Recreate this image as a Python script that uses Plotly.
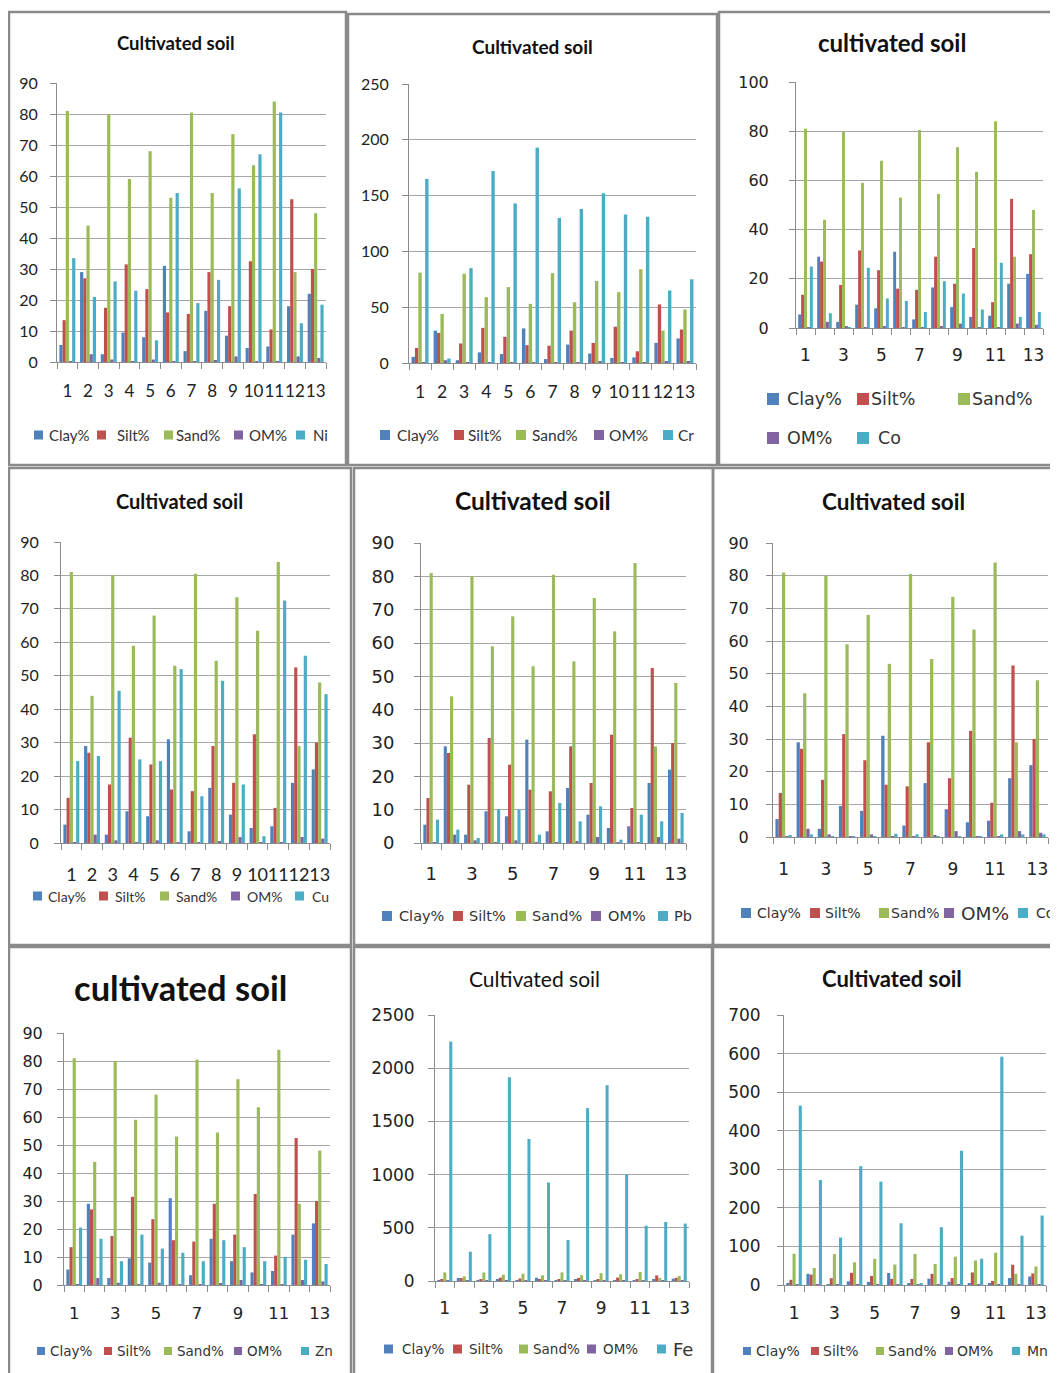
import plotly.graph_objects as go

# The page body has an 8px margin, so the figure is drawn 8px in and
# sized to end exactly at the window edge.
OFF = 8
W, H = 1058 - OFF, 1373 - OFF

# ---------------- data ----------------
samples = list(range(1, 14))
series_names = ["Clay%", "Silt%", "Sand%", "OM%"]
clay = [5.5, 29, 2.5, 9.5, 8, 31, 3.5, 16.5, 8.5, 4.5, 5, 18, 22]
silt = [13.5, 27, 17.5, 31.5, 23.5, 16, 15.5, 29, 18, 32.5, 10.5, 52.5, 30]
sand = [81, 44, 80, 59, 68, 53, 80.5, 54.5, 73.5, 63.5, 84, 29, 48]
om = [0.3, 2.5, 0.8, 0.2, 0.8, 0.2, 0.2, 0.5, 1.8, 0.2, 0.2, 1.8, 1.3]

ni = [33.5, 21, 26, 23, 7, 54.5, 19, 26.5, 56, 67, 80.5, 12.5, 18.5]
cr = [165, 4, 85, 172, 143, 193, 130, 138, 152, 133, 131, 65, 75]
co = [25, 6, 0.3, 24.5, 12, 11, 6.5, 19, 14, 7.5, 26.5, 4.5, 6.5]
cu = [24.5, 26, 45.5, 25, 24.5, 52, 14, 48.5, 17.5, 2, 72.5, 56, 44.5]
pb = [7, 4, 1.5, 10, 10, 2.5, 12, 6.5, 11, 1, 8.5, 6.5, 9]
cd = [0.6, 0.8, 0.1, 0.1, 0.1, 1.0, 0.8, 0.1, 0.1, 0.1, 0.8, 0.8, 0.8]
zn = [20.5, 16.5, 8.5, 18, 13, 11.5, 8.5, 16, 13.5, 8.5, 10, 9, 7.5]
fe = [2250, 275, 440, 1915, 1335, 925, 385, 1625, 1840, 1000, 520, 555, 540]
mn = [465, 272, 123, 308, 268, 160, 5, 150, 348, 68, 592, 128, 180]

odd_ticks = [1, 3, 5, 7, 9, 11, 13]

colors = ["#4F81BD", "#C0504D", "#9BBB59", "#8064A2", "#4BACC6"]
GRID = "#a6a6a6"
AXIS = "#8c8c8c"
BORDER = "#8a8a8a"

# ---------------- panel layout (window pixels) ----------------
panels = [
    dict(metal="Ni", vals=ni, title="Cultivated soil", tfam="Lato", tsize=18.5, tbold=True, tx=176, ty=43,
         px=(57, 326), py=(83, 362), ymax=90, dt=10, xt=samples,
         yfam="Lato", ysize=16, xfam="Lato", xsize=17, ystand=9, xstand=14,
         leg_rows=[(435, [(34, 47), (97, 115), (164, 174), (234, 247), (296, 311)])],
         lfam="Lato", lsize=15, lsizes=None, sq=9, border=(9, 12, 346, 465)),
    dict(metal="Cr", vals=cr, title="Cultivated soil", tfam="Lato", tsize=19, tbold=True, tx=532, ty=46,
         px=(409, 696), py=(84, 363), ymax=250, dt=50, xt=samples,
         yfam="Lato", ysize=16, xfam="Lato", xsize=17.5, ystand=10, xstand=13,
         leg_rows=[(435, [(380, 395), (454, 466), (516, 530), (594, 607), (663, 676)])],
         lfam="Lato", lsize=15.5, lsizes=None, sq=10, border=(348, 14, 717, 465)),
    dict(metal="Co", vals=co, title="cultivated soil", tfam="Lato", tsize=24, tbold=True, tx=892, ty=42,
         px=(796, 1043), py=(82, 328), ymax=100, dt=20, xt=odd_ticks,
         yfam="DejaVu Sans", ysize=16, xfam="DejaVu Sans", xsize=17, ystand=17, xstand=12,
         leg_rows=[(399, [(767, 785), (857, 869), (958, 970)]), (438, [(767, 785), (857, 876)])],
         lfam="DejaVu Sans", lsize=17.5, lsizes=None, sq=12, border=(719, 12, 1062, 465)),
    dict(metal="Cu", vals=cu, title="Cultivated soil", tfam="Lato", tsize=20, tbold=True, tx=179, ty=501,
         px=(61, 330), py=(542, 843), ymax=90, dt=10, xt=samples,
         yfam="Lato", ysize=16, xfam="Lato", xsize=18, ystand=12, xstand=15,
         leg_rows=[(896, [(33, 46), (99, 113), (160, 174), (231, 245), (295, 310)])],
         lfam="Lato", lsize=14, lsizes=None, sq=9, border=(9, 468, 351, 945)),
    dict(metal="Pb", vals=pb, title="Cultivated soil", tfam="Lato", tsize=24.5, tbold=True, tx=533, ty=500,
         px=(421, 686), py=(543, 843), ymax=90, dt=10, xt=odd_ticks,
         yfam="DejaVu Sans", ysize=18, xfam="DejaVu Sans", xsize=18, ystand=16, xstand=14,
         leg_rows=[(916, [(382, 397), (453, 467), (516, 530), (591, 606), (658, 672)])],
         lfam="DejaVu Sans", lsize=14.5, lsizes=None, sq=10, border=(354, 468, 713, 945)),
    dict(metal="Cd", vals=cd, title="Cultivated soil", tfam="Lato", tsize=22.5, tbold=True, tx=893, ty=501,
         px=(773, 1048), py=(543, 837), ymax=90, dt=10, xt=odd_ticks,
         yfam="DejaVu Sans", ysize=16, xfam="DejaVu Sans", xsize=17, ystand=14, xstand=17,
         leg_rows=[(913, [(741, 755), (810, 823), (879, 889), (944, 959), (1018, 1034)])],
         lfam="DejaVu Sans", lsize=14, lsizes=[14, 14, 14, 18.5, 14], sq=10, border=(713, 468, 1062, 945)),
    dict(metal="Zn", vals=zn, title="cultivated soil", tfam="Lato", tsize=34.5, tbold=True, tx=181, ty=987,
         px=(64, 330), py=(1033, 1285), ymax=90, dt=10, xt=odd_ticks,
         yfam="DejaVu Sans", ysize=16, xfam="DejaVu Sans", xsize=16.5, ystand=11, xstand=13,
         leg_rows=[(1351, [(37, 48), (104, 115), (164, 175), (234, 245), (301, 313)])],
         lfam="DejaVu Sans", lsize=13.5, lsizes=None, sq=8, border=(9, 947, 351, 1377)),
    dict(metal="Fe", vals=fe, title="Cultivated soil", tfam="Lato", tsize=21, tbold=False, tx=534, ty=978,
         px=(435, 689), py=(1015, 1281), ymax=2500, dt=500, xt=odd_ticks,
         yfam="DejaVu Sans", ysize=17, xfam="DejaVu Sans", xsize=17, ystand=10, xstand=12,
         leg_rows=[(1349, [(384, 400), (453, 467), (519, 531), (587, 601), (657, 671)])],
         lfam="DejaVu Sans", lsize=13.5, lsizes=[13.5, 13.5, 13.5, 13.5, 18], sq=9, border=(354, 947, 712, 1377)),
    dict(metal="Mn", vals=mn, title="Cultivated soil", tfam="Lato", tsize=22, tbold=True, tx=892, ty=978,
         px=(784, 1046), py=(1015, 1285), ymax=700, dt=100, xt=odd_ticks,
         yfam="DejaVu Sans", ysize=17, xfam="DejaVu Sans", xsize=17, ystand=13, xstand=13,
         leg_rows=[(1351, [(743, 754), (811, 821), (876, 886), (945, 955), (1012, 1025)])],
         lfam="DejaVu Sans", lsize=14, lsizes=None, sq=8, border=(713, 947, 1062, 1377)),
]


def fx(p):
    return (p - OFF) / W


def fy(p):
    return 1 - (p - OFF) / H


fig = go.Figure()
annotations = []
shapes = []
layout_axes = {}

for i, pn in enumerate(panels, start=1):
    suffix = "" if i == 1 else str(i)
    xa, ya = "x" + suffix, "y" + suffix
    series = [clay, silt, sand, om, pn["vals"]]
    names = series_names + [pn["metal"]]
    for s, nm, c in zip(series, names, colors):
        fig.add_trace(go.Bar(x=samples, y=s, name=nm, marker=dict(color=c, line=dict(width=0)),
                             xaxis=xa, yaxis=ya, showlegend=False))

    layout_axes["xaxis" + suffix] = dict(
        domain=[fx(pn["px"][0]), fx(pn["px"][1])], anchor=ya, range=[0.5, 13.5],
        tickmode="array", tickvals=pn["xt"], ticktext=[str(v) for v in pn["xt"]],
        ticks="", tickangle=0, automargin=False,
        showgrid=False, zeroline=False, showline=True, linecolor=AXIS, linewidth=1,
        tickfont=dict(family=pn["xfam"], size=pn["xsize"], color="#222"),
        ticklabelstandoff=pn["xstand"],
        minor=dict(ticks="outside", tick0=0.5, dtick=1, ticklen=6, tickcolor=AXIS, tickwidth=1, showgrid=False),
        fixedrange=True)
    layout_axes["yaxis" + suffix] = dict(
        domain=[fy(pn["py"][1]), fy(pn["py"][0])], anchor=xa, range=[0, pn["ymax"]],
        dtick=pn["dt"], tick0=0, ticks="outside", ticklen=6, tickcolor=AXIS, automargin=False,
        showgrid=True, gridcolor=GRID, gridwidth=1, zeroline=False,
        showline=True, linecolor=AXIS, linewidth=1,
        tickfont=dict(family=pn["yfam"], size=pn["ysize"], color="#222"),
        ticklabelstandoff=pn["ystand"], fixedrange=True)

    # title
    ttxt = "<b>%s</b>" % pn["title"] if pn["tbold"] else pn["title"]
    annotations.append(dict(text=ttxt, x=fx(pn["tx"]), y=fy(pn["ty"]), xref="paper", yref="paper",
                            xanchor="center", yanchor="middle", showarrow=False,
                            font=dict(family=pn["tfam"], size=pn["tsize"], color="#111")))

    # legend (manual, Excel-like)
    k = 0
    for (ly, entries) in pn["leg_rows"]:
        for (sqx, tx) in entries:
            sz = pn["sq"]
            shapes.append(dict(type="rect", xref="paper", yref="paper",
                               x0=fx(sqx), x1=fx(sqx + sz), y0=fy(ly + sz / 2), y1=fy(ly - sz / 2),
                               fillcolor=colors[k], line=dict(width=0)))
            lsz = pn["lsizes"][k] if pn["lsizes"] else pn["lsize"]
            annotations.append(dict(text=names[k], x=fx(tx), y=fy(ly), xref="paper", yref="paper",
                                    xanchor="left", yanchor="middle", showarrow=False,
                                    font=dict(family=pn["lfam"], size=lsz, color="#333")))
            k += 1

    # panel border
    bx0, by0, bx1, by1 = pn["border"]
    shapes.append(dict(type="rect", xref="paper", yref="paper",
                       x0=fx(bx0), x1=fx(bx1), y0=fy(by1), y1=fy(by0),
                       line=dict(color=BORDER, width=2.5), fillcolor="rgba(0,0,0,0)"))

fig.update_layout(
    template="none",
    width=W, height=H, margin=dict(l=0, r=0, t=0, b=0, pad=0, autoexpand=False),
    paper_bgcolor="white", plot_bgcolor="white",
    barmode="group", bargap=0.23, bargroupgap=0,
    showlegend=False, annotations=annotations, shapes=shapes,
    **layout_axes)

fig.write_html("out.html")
